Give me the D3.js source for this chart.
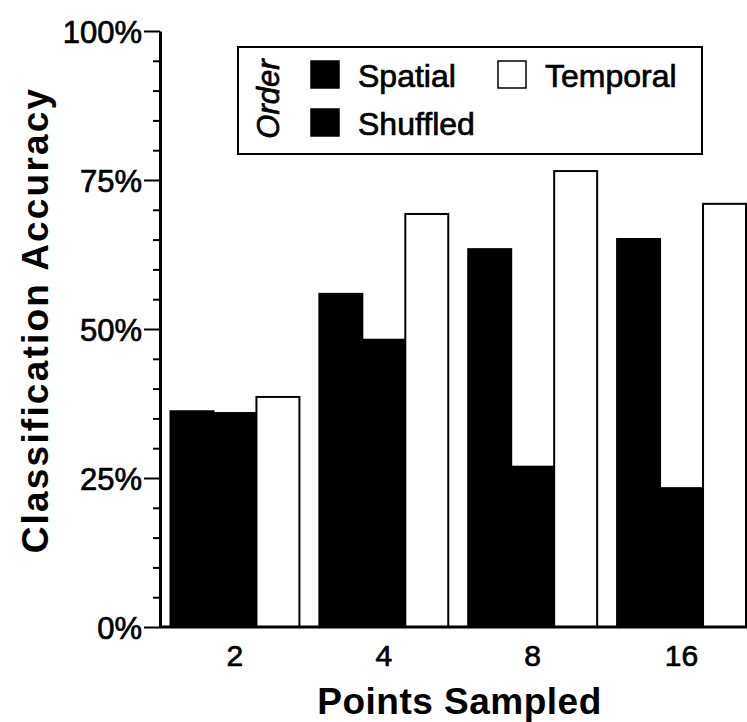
<!DOCTYPE html>
<html>
<head>
<meta charset="utf-8">
<script src="https://cdn.jsdelivr.net/npm/d3@7"></script>
<style>
  html, body { margin: 0; padding: 0; background: #fff; }
  svg { display: block; font-family: "Liberation Sans", Arial, Helvetica, sans-serif; }
</style>
</head>
<body>
<svg id="chart" width="747" height="722"></svg>
<script>
// Classification accuracy (%) by number of points sampled, per ordering
const categories = ["2", "4", "8", "16"];
const seriesNames = ["Spatial", "Shuffled", "Temporal"];
const spatial  = [36.2, 55.9, 63.4, 65.1];
const shuffled = [35.9, 48.2, 26.9, 23.3];
const temporal = [38.6, 69.3, 76.5, 71.0];
const yTickValues = [0, 25, 50, 75, 100];
const yTickLabels = ["0%", "25%", "50%", "75%", "100%"];
const yMinorTicks = [5, 10, 15, 20, 30, 35, 40, 45, 55, 60, 65, 70, 80, 85, 90, 95];

const seriesValues = { Spatial: spatial, Shuffled: shuffled, Temporal: temporal };
const seriesFill = { Spatial: "#000", Shuffled: "#000", Temporal: "#fff" };

const svg = d3.select("#chart");

const axisX = 160, baseY = 627, topY = 31;

const y = d3.scaleLinear().domain([0, 100]).range([baseY, topY]);
const x = d3.scaleBand().domain(categories).range([170.5, 746]).paddingInner(0.134).paddingOuter(0);
const xInner = d3.scaleBand().domain(seriesNames).range([0, x.bandwidth()]).padding(0);

// Slightly heavier regular text, like a printed figure
const inkText = sel => sel.attr("fill", "#000").attr("stroke", "#000").attr("stroke-width", 0.7);

// Bars
const groups = svg.append("g").selectAll("g")
  .data(categories)
  .join("g")
  .attr("transform", d => `translate(${x(d)},0)`);

groups.selectAll("rect")
  .data((c, i) => seriesNames.map(s => ({ s, v: seriesValues[s][i] })))
  .join("rect")
  .attr("x", d => xInner(d.s))
  .attr("y", d => y(d.v))
  .attr("width", xInner.bandwidth())
  .attr("height", d => baseY - y(d.v))
  .attr("fill", d => seriesFill[d.s])
  .attr("stroke", "#000")
  .attr("stroke-width", 2);

// Y axis: minor ticks
svg.append("g")
  .attr("transform", `translate(${axisX},0)`)
  .call(d3.axisLeft(y).tickValues(yMinorTicks).tickSize(7).tickFormat(""))
  .call(g => g.select(".domain").remove())
  .call(g => g.selectAll("line").attr("stroke", "#000").attr("stroke-width", 2));

// Y axis: major ticks and labels
svg.append("g")
  .attr("transform", `translate(${axisX},0)`)
  .call(d3.axisLeft(y).tickValues(yTickValues).tickSize(16).tickSizeOuter(0)
        .tickFormat((d, i) => yTickLabels[i]))
  .call(g => g.select(".domain").attr("stroke", "#000").attr("stroke-width", 3))
  .call(g => g.selectAll("line").attr("stroke", "#000").attr("stroke-width", 2))
  .call(g => g.selectAll("text")
      .attr("font-size", 31).attr("x", -18).attr("dy", "0.36em")
      .attr("font-family", "'Liberation Sans', Arial, sans-serif")
      .call(inkText));

// X axis
svg.append("g")
  .attr("transform", `translate(0,${baseY})`)
  .call(d3.axisBottom(x).tickSize(0).tickPadding(18))
  .call(g => g.select(".domain").attr("d", `M${axisX},0H747`).attr("stroke", "#000").attr("stroke-width", 3))
  .call(g => g.selectAll("text")
      .attr("font-size", 30)
      .attr("font-family", "'Liberation Sans', Arial, sans-serif")
      .call(inkText));

// Axis titles
svg.append("text")
  .attr("x", (axisX + 747) / 2 + 6)
  .attr("y", 714)
  .attr("text-anchor", "middle")
  .attr("font-size", 37)
  .attr("font-weight", "bold")
  .attr("letter-spacing", 0.5)
  .text("Points Sampled");

svg.append("text")
  .attr("transform", "translate(48,320) rotate(-90)")
  .attr("text-anchor", "middle")
  .attr("font-size", 37)
  .attr("font-weight", "bold")
  .attr("letter-spacing", 2.2)
  .text("Classification Accuracy");

// Legend
const legend = svg.append("g");
legend.append("rect")
  .attr("x", 238).attr("y", 47).attr("width", 464).attr("height", 107)
  .attr("fill", "#fff").attr("stroke", "#000").attr("stroke-width", 2);

legend.append("text")
  .attr("transform", "translate(279,99) rotate(-90)")
  .attr("text-anchor", "middle")
  .attr("font-size", 31)
  .attr("font-style", "italic")
  .call(inkText)
  .text("Order");

const legendItems = [
  { name: "Spatial",  sx: 311, y: 61 },
  { name: "Temporal", sx: 498, y: 61 },
  { name: "Shuffled", sx: 311, y: 109 }
];
legendItems.forEach(it => {
  legend.append("rect")
    .attr("x", it.sx).attr("y", it.y).attr("width", 28).attr("height", 27)
    .attr("fill", seriesFill[it.name]).attr("stroke", "#000").attr("stroke-width", 1.5);
  legend.append("text")
    .attr("x", it.sx + 47).attr("y", it.y + 26)
    .attr("font-size", 32)
    .call(inkText)
    .text(it.name);
});
</script>
</body>
</html>
